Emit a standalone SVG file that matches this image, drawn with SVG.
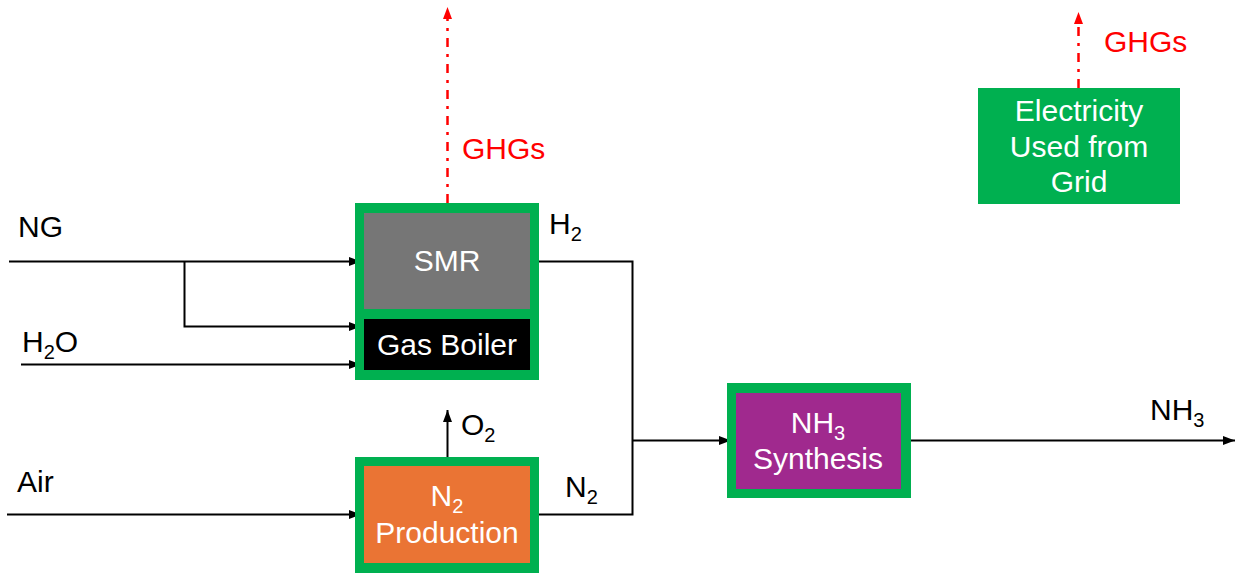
<svg xmlns="http://www.w3.org/2000/svg" width="1236" height="573" viewBox="0 0 1236 573">
<defs>
<style>
text{font-family:"Liberation Sans",Arial,sans-serif;font-size:30px}
.w{fill:#fff}
.k{fill:#000}
.r{fill:#f00}
.sub{font-size:20px}
.ln{fill:none;stroke:#000;stroke-width:2}
.ghg{fill:none;stroke:#f00;stroke-width:2.5;stroke-dasharray:9 7 3 7}
.frame{fill:#00b050}
</style>
<marker id="ah" markerUnits="userSpaceOnUse" markerWidth="13" markerHeight="11" refX="12" refY="5.5" orient="auto">
<path d="M0,1 L12,5.5 L0,10 Z" fill="#000"/>
</marker>
<marker id="ahr" markerUnits="userSpaceOnUse" markerWidth="13" markerHeight="11" refX="12" refY="5.5" orient="auto">
<path d="M0,1 L12,5.5 L0,10 Z" fill="#f00"/>
</marker>
</defs>
<rect width="1236" height="573" fill="#fff"/>

<g id="connectors">
<path class="ln" d="M9,261.5 H361" marker-end="url(#ah)"/>
<path class="ln" d="M184.5,261.5 V326.5 H361" marker-end="url(#ah)"/>
<path class="ln" d="M21,364.5 H361" marker-end="url(#ah)"/>
<path class="ln" d="M7,514.5 H361" marker-end="url(#ah)"/>
<path class="ln" d="M535,261.5 H632.5 V514.5 H535"/>
<path class="ln" d="M632.5,440.5 H731" marker-end="url(#ah)"/>
<path class="ln" d="M911,440.5 H1235" marker-end="url(#ah)"/>
<path class="ln" d="M447.5,457 V410" marker-end="url(#ah)"/>
<path class="ghg" d="M447.5,203 V7" marker-end="url(#ahr)"/>
<path class="ghg" d="M1078.5,88 V12" marker-end="url(#ahr)"/>
</g>

<g id="labels">
<text class="k" x="18" y="237">NG</text>
<text class="k" x="22" y="352">H<tspan class="sub" dy="7">2</tspan><tspan dy="-7">O</tspan></text>
<text class="k" x="17" y="492">Air</text>
<text class="k" x="549" y="234">H<tspan class="sub" dy="7">2</tspan></text>
<text class="k" x="565" y="497">N<tspan class="sub" dy="7">2</tspan></text>
<text class="k" x="461" y="435">O<tspan class="sub" dy="7">2</tspan></text>
<text class="k" x="1150" y="420">NH<tspan class="sub" dy="7">3</tspan></text>
<text class="r" x="462" y="159">GHGs</text>
<text class="r" x="1104" y="52">GHGs</text>
</g>

<g id="smr">
<rect class="frame" x="355" y="203" width="184" height="177"/>
<rect x="364" y="213" width="166" height="96" fill="#767676"/>
<text class="w" x="447" y="271" text-anchor="middle">SMR</text>
</g>
<g id="gas-boiler">
<rect x="364" y="319" width="166" height="51" fill="#000"/>
<text class="w" x="447" y="355" text-anchor="middle">Gas Boiler</text>
</g>

<g id="n2-production">
<rect class="frame" x="355" y="457" width="184" height="116"/>
<rect x="364" y="466" width="166" height="97" fill="#ea7434"/>
<text class="w" x="447" y="506" text-anchor="middle">N<tspan class="sub" dy="7">2</tspan></text>
<text class="w" x="447" y="543" text-anchor="middle">Production</text>
</g>

<g id="nh3-synthesis">
<rect class="frame" x="727" y="383" width="184" height="115"/>
<rect x="736" y="393" width="165" height="96" fill="#a0298e"/>
<text class="w" x="818" y="433" text-anchor="middle">NH<tspan class="sub" dy="7">3</tspan></text>
<text class="w" x="818" y="469" text-anchor="middle">Synthesis</text>
</g>

<g id="electricity">
<rect class="frame" x="978" y="88" width="202" height="116"/>
<text class="w" x="1079" y="121" text-anchor="middle">Electricity</text>
<text class="w" x="1079" y="157" text-anchor="middle">Used from</text>
<text class="w" x="1079" y="192" text-anchor="middle">Grid</text>
</g>
</svg>
